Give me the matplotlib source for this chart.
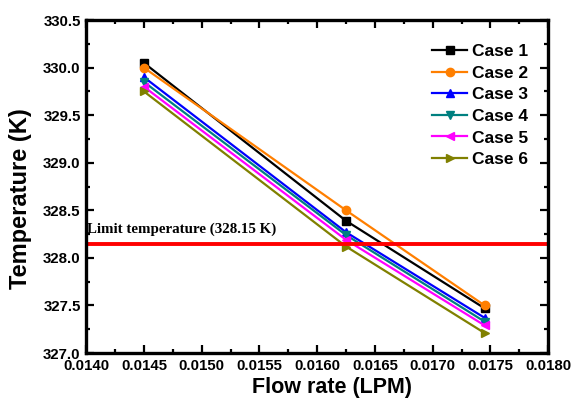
import matplotlib.pyplot as plt
from matplotlib.ticker import MultipleLocator, FormatStrFormatter

flow = [0.0145, 0.01625, 0.01745]
cases = ["Case 1", "Case 2", "Case 3", "Case 4", "Case 5", "Case 6"]
temps = [
    [330.05, 328.39, 327.47],
    [330.00, 328.50, 327.50],
    [329.90, 328.27, 327.37],
    [329.85, 328.24, 327.33],
    [329.80, 328.19, 327.29],
    [329.75, 328.12, 327.21],
]
colors = ["black", "#ff7f00", "blue", "#008080", "magenta", "#808000"]
markers = ["s", "o", "^", "v", "<", ">"]
limit_temp = 328.15

plt.rcParams["font.family"] = ["Liberation Sans", "DejaVu Sans"]
plt.rcParams["font.weight"] = "bold"

fig = plt.figure(figsize=(5.71, 4.03), dpi=100)
ax = fig.add_axes([0.151, 0.124, 0.809, 0.826])

for name, t, c, m in zip(cases, temps, colors, markers):
    ax.plot(flow, t, color=c, marker=m, markersize=6, linewidth=1.6, label=name)

ax.axhline(limit_temp, color="red", linewidth=2.8)
ax.text(0.01401, limit_temp + 0.08, "Limit temperature (328.15 K)",
        family="Liberation Serif", fontweight="bold", fontsize=10.8, va="bottom")

ax.set_xlim(0.0140, 0.0180)
ax.set_ylim(327.0, 330.5)
ax.xaxis.set_major_locator(MultipleLocator(0.0005))
ax.xaxis.set_minor_locator(MultipleLocator(0.00025))
ax.yaxis.set_major_locator(MultipleLocator(0.5))
ax.yaxis.set_minor_locator(MultipleLocator(0.25))
ax.xaxis.set_major_formatter(FormatStrFormatter("%.4f"))
ax.yaxis.set_major_formatter(FormatStrFormatter("%.1f"))

ax.tick_params(which="both", direction="in", top=True, right=True, width=1.6)
ax.tick_params(which="major", length=6, labelsize=10.8, pad=4)
ax.tick_params(which="minor", length=3)
for s in ax.spines.values():
    s.set_linewidth(2.4)

ax.set_xlabel("Flow rate (LPM)", fontsize=15.5, fontweight="bold")
ax.set_ylabel("Temperature (K)", fontsize=17, fontweight="bold")
ax.xaxis.set_label_coords(0.532, -0.072)
ax.yaxis.set_label_coords(-0.117, 0.465)

ax.legend(loc="upper right", frameon=False, fontsize=12.5, handlelength=2.0,
          handletextpad=0.3, labelspacing=0.37, borderpad=0, borderaxespad=0,
          bbox_to_anchor=(0.957, 0.928))

fig.savefig("out.png", dpi=100)
